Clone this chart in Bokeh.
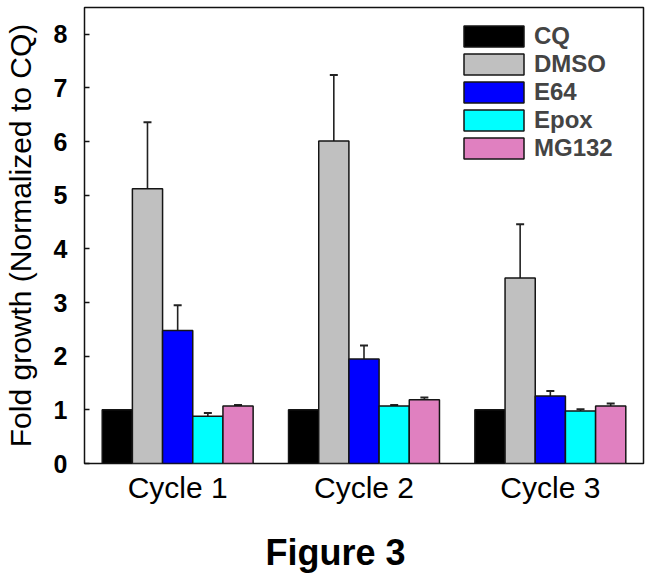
from bokeh.plotting import figure
from bokeh.models import (ColumnDataSource, FactorRange, Whisker, TeeHead, Legend,
                          LegendItem, Title, FixedTicker, LinearAxis)
from bokeh.transform import dodge
from bokeh.embed import file_html
from bokeh.resources import INLINE

# ---- data ----
cycles = ["Cycle 1", "Cycle 2", "Cycle 3"]
treatments = ["CQ", "DMSO", "E64", "Epox", "MG132"]
cq = [1.0, 1.0, 1.0]
dmso = [5.12, 6.01, 3.46]
e64 = [2.48, 1.95, 1.26]
epox = [0.88, 1.07, 0.98]
mg132 = [1.07, 1.19, 1.07]
cq_err = [0.0, 0.0, 0.0]
dmso_err = [1.24, 1.23, 1.00]
e64_err = [0.47, 0.25, 0.09]
epox_err = [0.06, 0.02, 0.03]
mg132_err = [0.02, 0.04, 0.05]
y_ticks = [0, 1, 2, 3, 4, 5, 6, 7, 8]
figure_caption = "Figure 3"

values = [cq, dmso, e64, epox, mg132]
errors = [cq_err, dmso_err, e64_err, epox_err, mg132_err]
colors = ["#000000", "#c0c0c0", "#0000ff", "#00ffff", "#e080c0"]

FONT = "Liberation Sans"
bar_w = 0.162
offsets = [-2 * bar_w, -bar_w, 0.0, bar_w, 2 * bar_w]

p = figure(x_range=FactorRange(*cycles, range_padding=0), y_range=(0, 8.5),
           width=653, height=580, output_backend="svg", toolbar_location=None,
           min_border_left=84, min_border_right=10, min_border_top=7, min_border_bottom=117)
p.background_fill_color = "white"
p.border_fill_color = "white"
p.outline_line_color = "#111111"
p.outline_line_width = 1.5
p.xgrid.visible = False
p.ygrid.visible = False

items = []
for name, vals, errs, col, off in zip(treatments, values, errors, colors, offsets):
    src = ColumnDataSource(dict(cycle=cycles, value=vals,
                                upper=[v + e for v, e in zip(vals, errs)]))
    r = p.vbar(x=dodge("cycle", off, range=p.x_range), top="value", width=bar_w,
               source=src, fill_color=col, line_color="#151515", line_width=1.5)
    items.append(LegendItem(label=name, renderers=[r]))
    if any(e > 0 for e in errs):
        w = Whisker(source=src, base=dodge("cycle", off, range=p.x_range),
                    upper="upper", lower="value", line_color="#222222", line_width=1.6,
                    upper_head=TeeHead(size=8, line_color="#222222", line_width=2),
                    lower_head=None)
        p.add_layout(w)

legend = Legend(items=items, location="top_right", margin=15, padding=10,
                glyph_width=75, glyph_height=26, spacing=0, label_standoff=3,
                label_width=94, label_text_font=FONT, label_text_font_size="24px",
                label_text_font_style="bold",
                border_line_color=None, background_fill_alpha=0)
p.add_layout(legend)

# y axis
p.yaxis.ticker = FixedTicker(ticks=y_ticks)
p.yaxis.minor_tick_line_color = None
p.yaxis.major_tick_in = 5
p.yaxis.major_tick_out = 0
p.yaxis.major_tick_line_color = "#111111"
p.yaxis.major_tick_line_width = 1.5
p.yaxis.axis_line_color = None
p.yaxis.major_label_standoff = 17
p.yaxis.major_label_text_font = FONT
p.yaxis.major_label_text_font_size = "25px"
p.yaxis.major_label_text_font_style = "bold"
p.yaxis.major_label_text_color = "black"
p.yaxis.axis_label = "Fold growth (Normalized to CQ)"
p.yaxis.axis_label_text_font = FONT
p.yaxis.axis_label_text_font_size = "30px"
p.yaxis.axis_label_text_font_style = "normal"
p.yaxis.axis_label_text_color = "black"
p.yaxis.axis_label_standoff = 14

# x axis
p.xaxis.major_tick_in = 0
p.xaxis.major_tick_out = 0
p.xaxis.axis_line_color = None
p.xaxis.major_label_standoff = 7
p.xaxis.major_label_text_font = FONT
p.xaxis.major_label_text_font_size = "30px"
p.xaxis.major_label_text_color = "black"

# blank spacer band between the category labels and the caption
spacer = LinearAxis(ticker=FixedTicker(ticks=[1.5]), major_tick_in=0, major_tick_out=16,
                    major_tick_line_color=None, axis_line_color=None,
                    major_label_overrides={1.5: ""}, major_label_standoff=0,
                    major_label_text_font_size="1px", minor_tick_line_color=None)
p.add_layout(spacer, "below")

caption = Title(text=figure_caption, align="left", offset=181, standoff=14,
                vertical_align="bottom", text_font=FONT, text_font_size="36px",
                text_font_style="bold", text_color="black")
p.add_layout(caption, "below")

open("out.html", "w").write(file_html(p, INLINE))
